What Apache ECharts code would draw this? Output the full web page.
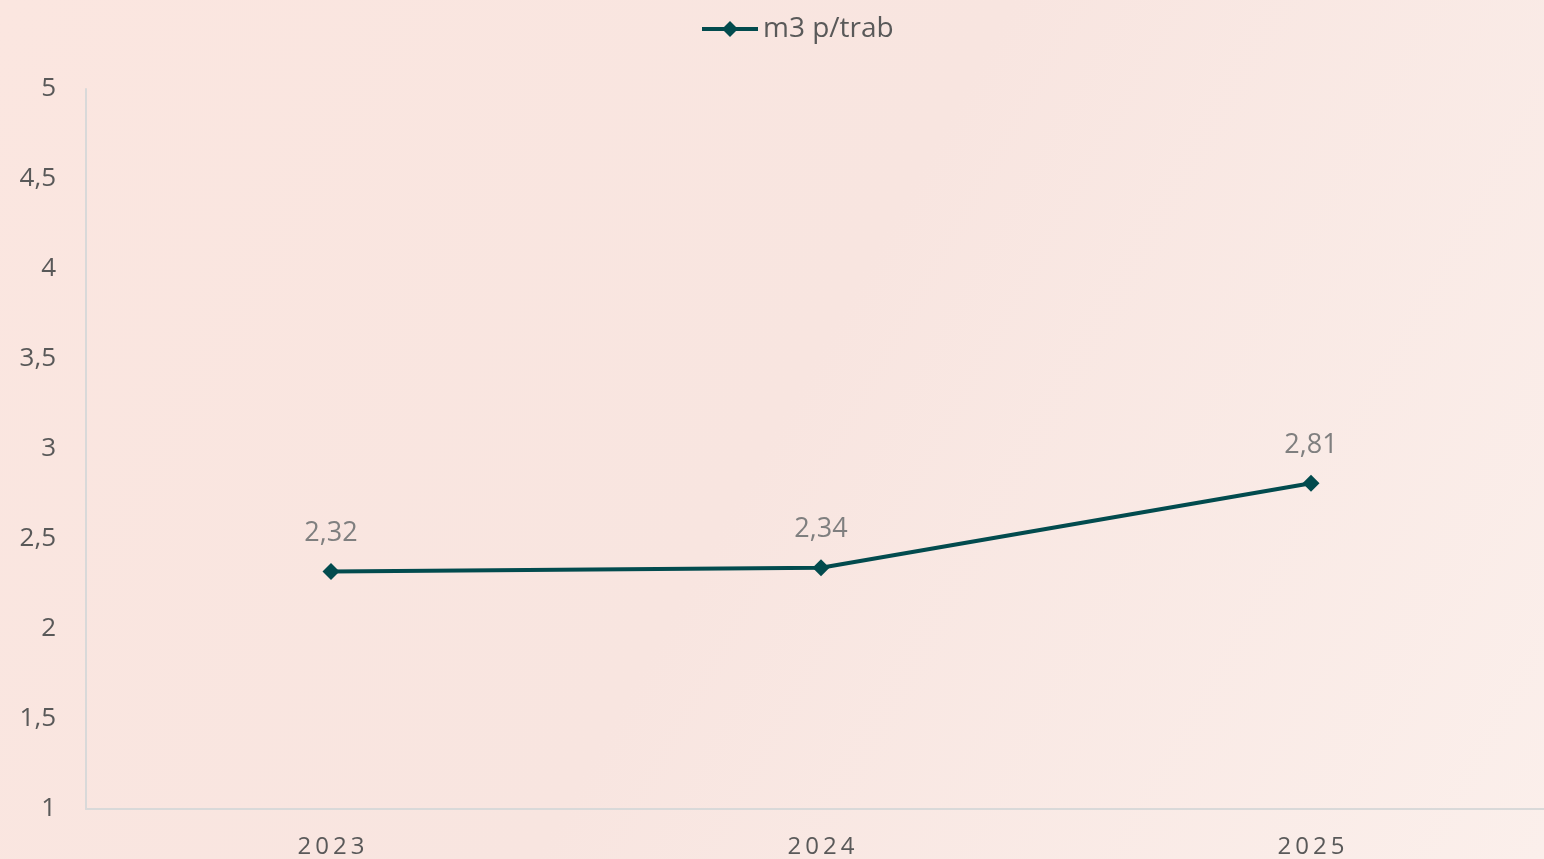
<!DOCTYPE html>
<html>
<head>
<meta charset="utf-8">
<script src="https://cdn.jsdelivr.net/npm/echarts@6/dist/echarts.min.js"></script>
<style>
  html, body { margin: 0; padding: 0; }
  #chart { width: 1544px; height: 859px; }
</style>
</head>
<body>
<div id="chart"></div>
<script>
const years = ["2023", "2024", "2025"];
const m3PerWorker = [2.32, 2.34, 2.81];
const seriesName = "m3 p/trab";

const chart = echarts.init(document.getElementById("chart"));
const comma = (v) => String(v).replace(".", ",");
// spread the year digits a bit, like the original
const spaced = (v) => v.split("").map((c) => "{d|" + c + "}").join("");

chart.setOption({
  backgroundColor: new echarts.graphic.LinearGradient(0, 0, 1, 1, [
    { offset: 0, color: "#fbe6e0" },
    { offset: 0.5, color: "#f8e5e0" },
    { offset: 1, color: "#fbefeb" },
  ]),
  textStyle: { fontFamily: "Open Sans" },
  legend: {
    data: [seriesName],
    top: 10,
    left: 695,
    itemWidth: 56,
    itemHeight: 20,
    itemGap: 4,
    lineStyle: { width: 4 },
    textStyle: { color: "#595959", fontSize: 28, fontFamily: "Open Sans" },
  },
  // plot runs a little past the right edge in the original
  grid: { left: 86, right: -12, top: 89, bottom: 50, outerBoundsMode: "none", containLabel: false },
  xAxis: {
    type: "category",
    data: years,
    boundaryGap: true,
    axisLine: { lineStyle: { color: "#d9d9d9", width: 2 } },
    axisTick: { show: false },
    axisLabel: {
      margin: 26,
      formatter: spaced,
      rich: {
        d: { color: "#595959", fontSize: 24, fontFamily: "Open Sans", padding: [0, 2, 0, 2] },
      },
    },
  },
  yAxis: {
    type: "value",
    min: 1,
    max: 5,
    interval: 0.5,
    axisLine: { show: true, lineStyle: { color: "#d9d9d9", width: 2 } },
    axisTick: { show: false },
    splitLine: { show: false },
    axisLabel: {
      color: "#595959",
      fontSize: 26,
      margin: 30,
      formatter: comma,
    },
  },
  series: [
    {
      name: seriesName,
      type: "line",
      data: m3PerWorker,
      color: "#024b4e",
      lineStyle: { width: 4, color: "#024b4e" },
      symbol: "diamond",
      symbolSize: 17,
      itemStyle: { color: "#024b4e" },
      label: {
        show: true,
        position: "top",
        distance: 16,
        color: "#7f7f7f",
        fontSize: 27,
        formatter: (p) => comma(p.value),
      },
    },
  ],
});
</script>
</body>
</html>
